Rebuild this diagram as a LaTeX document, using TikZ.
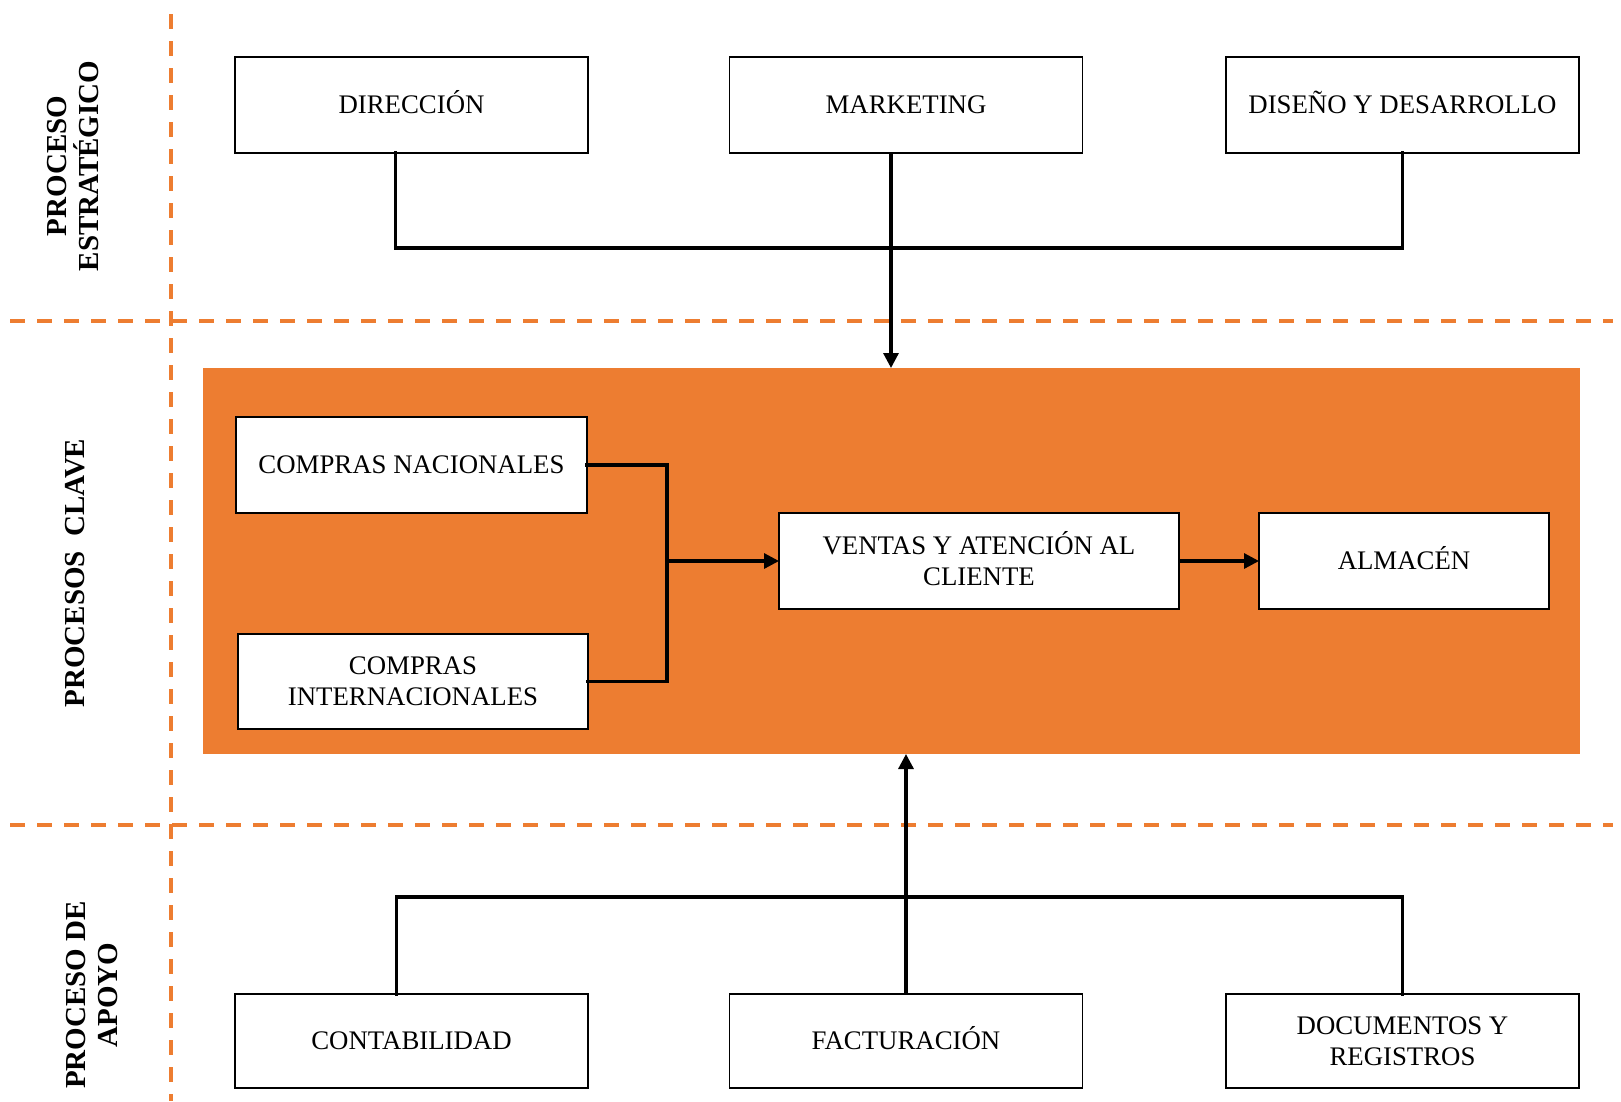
\documentclass[tikz,border=0pt]{standalone}
\usepackage{fontspec}
\setmainfont{Liberation Serif}
\usetikzlibrary{arrows.meta}
\definecolor{procorange}{HTML}{ED7D31}
\begin{document}
\begin{tikzpicture}[x=1pt,y=-1pt,
  box/.style={draw=black,line width=1.8pt,fill=white,inner sep=0pt,outer sep=0pt,
    minimum height=96pt,align=center,font=\fontsize{26.8}{31}\selectfont,
    text height=17.7pt,text depth=0pt},
  twoline/.style={text height=48.7pt,text depth=0pt},
  conn/.style={line width=3.2pt,line cap=rect},
  arr/.style={-{Triangle[length=15pt,width=15pt]},line cap=butt},
  sep/.style={procorange,line width=3.5pt,dash pattern=on 15pt off 12pt},
  side/.style={rotate=90,align=center,font=\fontsize{29}{32.5}\selectfont\bfseries}]
\useasboundingbox (0,0) rectangle (1621,1101);

% section separators
\draw[sep] (171,14) -- (171,1101);
\draw[sep] (10,321) -- (1613,321);
\draw[sep] (10,825) -- (1613,825);

% section titles
\node[side] (tstrat) at (73,166) {PROCESO\\ESTRATÉGICO};
\node[side] (tclave) at (75,573) {PROCESOS~~CLAVE};
\node[side] (tapoyo) at (92,995) {PROCESO DE\\APOYO};

% key process band
\node[fill=procorange,inner sep=0pt,outer sep=0pt,minimum width=1377pt,minimum height=386pt]
  (clave) at (891.5,561) {};

% strategic processes
\node[box,minimum width=353pt] (dir) at (411.5,105) {DIRECCIÓN};
\node[box,minimum width=353pt] (mkt) at (906,105) {MARKETING};
\node[box,minimum width=353pt] (dis) at (1402.5,105) {DISEÑO Y DESARROLLO};

% key processes
\node[box,minimum width=351pt] (cn) at (411.5,465) {COMPRAS NACIONALES};
\node[box,twoline,minimum width=350pt,minimum height=95pt] (ci) at (413,681.5) {COMPRAS\\INTERNACIONALES};
\node[box,twoline,minimum width=400pt] (ven) at (979,561) {VENTAS Y ATENCIÓN AL\\CLIENTE};
\node[box,minimum width=290pt] (alm) at (1404,561) {ALMACÉN};

% support processes
\node[box,minimum width=353pt,minimum height=94pt] (con) at (411.5,1041) {CONTABILIDAD};
\node[box,minimum width=353pt,minimum height=94pt] (fac) at (906,1041) {FACTURACIÓN};
\node[box,twoline,minimum width=353pt,minimum height=94pt] (doc) at (1402.5,1041) {DOCUMENTOS Y\\REGISTROS};

% collector bars
\coordinate (topbar) at (0,248);
\coordinate (botbar) at (0,897);
\coordinate (join) at (667,0);

% strategic -> key
\draw[conn] ([xshift=-16pt]dir.south) |- (topbar -| dis.south) -- (dis.south);
\draw[conn,arr] ([xshift=-15pt]mkt.south) -- ([xshift=-15pt]mkt.south |- clave.north);

% purchases -> sales -> warehouse
\draw[conn] (cn.east) -- (join |- cn.east) -- (join |- ci.east) -- (ci.east);
\draw[conn,arr] (join |- ven.west) -- (ven.west);
\draw[conn,arr] (ven.east) -- (alm.west);

% support -> key
\draw[conn] ([xshift=-15pt]con.north) |- (botbar -| doc.north) -- (doc.north);
\draw[conn,arr] (fac.north) -- (fac.north |- clave.south);
\end{tikzpicture}
\end{document}
